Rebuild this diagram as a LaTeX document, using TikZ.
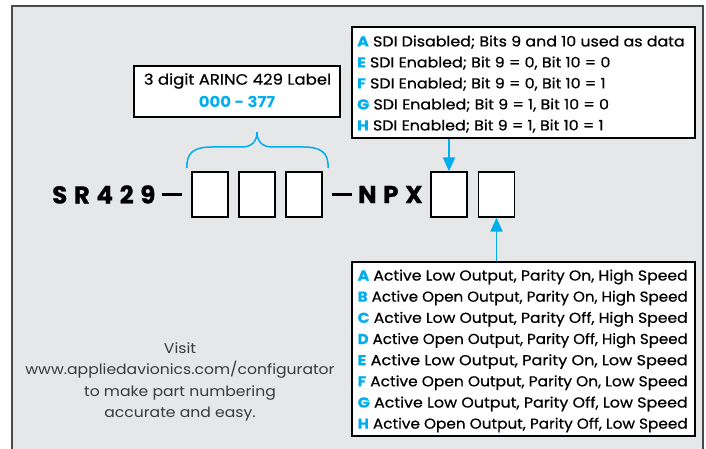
\documentclass[tikz,border=0pt]{standalone}
\usepackage{fontspec}
\setmainfont{Poppins}
\newfontfamily\widefont[FakeStretch=1.1]{Poppins}
\newfontfamily\medfont[FakeStretch=1.1,FakeBold=0.6]{Poppins}
\definecolor{cyanb}{HTML}{00AEEF}
\definecolor{bgray}{HTML}{E6E7E8}
\definecolor{framec}{HTML}{4A4A4A}
\definecolor{txtgray}{HTML}{3A3A3A}
\tikzset{
  whitebox/.style={draw=black, line width=1.5pt, fill=white, inner sep=0pt},
  digit/.style={draw=black, line width=1.3pt, fill=white, minimum width=36pt, minimum height=45pt, inner sep=0pt},
  optline/.style={anchor=west, inner sep=0pt, font=\medfont\fontsize{14.4}{16}\selectfont},
  conn/.style={draw=cyanb, line width=1.8pt, -{Triangle[length=14pt,width=12pt]}},
  bigtxt/.style={inner sep=0pt, font=\fontsize{24.5}{28}\bfseries\addfontfeature{LetterSpace=27,FakeBold=0.8}\selectfont},
  dashl/.style={line width=2.6pt, black}
}
\usetikzlibrary{arrows.meta}
\newcommand{\fitline}[1]{\resizebox{330pt}{\height}{#1}}
\begin{document}
\begin{tikzpicture}[x=1pt,y=-1pt]
\useasboundingbox (0,0) rectangle (706,449);
\begin{scope}
\clip (0,0) rectangle (706,449);
\fill[white] (0,0) rectangle (706,449);
\draw[framec, line width=2pt, fill=bgray] (12,6) rectangle (703,470);
\end{scope}

% label box
\node[whitebox, minimum width=206pt, minimum height=51pt] (lbl) at (237,91.5) {};
\node[inner sep=0pt, font=\medfont\fontsize{15}{16}\selectfont] (lbl1) at (237.5,81) {3 digit ARINC 429 Label};
\node[inner sep=0pt, font=\widefont\fontsize{15}{16}\bfseries\selectfont, text=cyanb] (lbl2) at (237,101.5) {000 - 377};

% brace
\draw[cyanb, line width=1.5pt] (187,168) .. controls (186,152) and (195,147) .. (212,147)
  -- (242,147) .. controls (252,147) and (257,141) .. (257,132)
  .. controls (257,141) and (262,147) .. (272,147) -- (303,147)
  .. controls (320,147) and (329,152) .. (328,168);
\coordinate (bracetip) at (257,132);

% part number
\node[bigtxt, anchor=west] (sr) at (52,194.5) {SR429};
\coordinate (d1a) at (162,194.5);
\coordinate (d1b) at (182,194.5);
\draw[dashl] (d1a) -- (d1b);
\node[digit] (b1) at (210,194.5) {};
\node[digit] (b2) at (257,194.5) {};
\node[digit] (b3) at (304,194.5) {};
\coordinate (d2a) at (332,194.5);
\coordinate (d2b) at (352,194.5);
\draw[dashl] (d2a) -- (d2b);
\node[bigtxt, anchor=west] (npx) at (358,194.5) {NPX};
\node[digit] (b4) at (449,194.5) {};
\node[digit] (b5) at (496.5,194.5) {};

% SDI box
\node[whitebox, minimum width=343pt, minimum height=111pt] (sdi) at (523.5,82.5) {};
\foreach \l/\t [count=\i from 0] in {A/SDI Disabled; Bits 9 and 10 used as data,
  E/SDI Enabled; Bit 9 = 0{,} Bit 10 = 0,
  F/SDI Enabled; Bit 9 = 0{,} Bit 10 = 1,
  G/SDI Enabled; Bit 9 = 1{,} Bit 10 = 0,
  H/SDI Enabled; Bit 9 = 1{,} Bit 10 = 1}
  \node[optline] (s\i) at (357,42+21*\i) {\textcolor{cyanb}{\bfseries\l} \t};
\draw[conn] (sdi.south -| b4.north) -- (b4.north);

% output box
\node[whitebox, minimum width=343pt, minimum height=174pt] (out) at (523.5,349) {};
\foreach \l/\t [count=\i from 0] in {A/Active Low Output{,} Parity On{,} High Speed,
  B/Active Open Output{,} Parity On{,} High Speed,
  C/Active Low Output{,} Parity Off{,} High Speed,
  D/Active Open Output{,} Parity Off{,} High Speed,
  E/Active Low Output{,} Parity On{,} Low Speed,
  F/Active Open Output{,} Parity On{,} Low Speed,
  G/Active Low Output{,} Parity Off{,} Low Speed,
  H/Active Open Output{,} Parity Off{,} Low Speed}
  \node[optline] (o\i) at (357.5,277+21.15*\i) {\fitline{\textcolor{cyanb}{\bfseries\l} \t}};
\draw[conn] (out.north -| b5.south) -- (b5.south);

% visit text
\node[inner sep=0pt, align=center, text=txtgray, font=\widefont\fontsize{14.2}{21.3}\selectfont] (visit) at (180,382) {Visit\\www.appliedavionics.com/configurator\\to make part numbering\\accurate and easy.};
\end{tikzpicture}
\end{document}
